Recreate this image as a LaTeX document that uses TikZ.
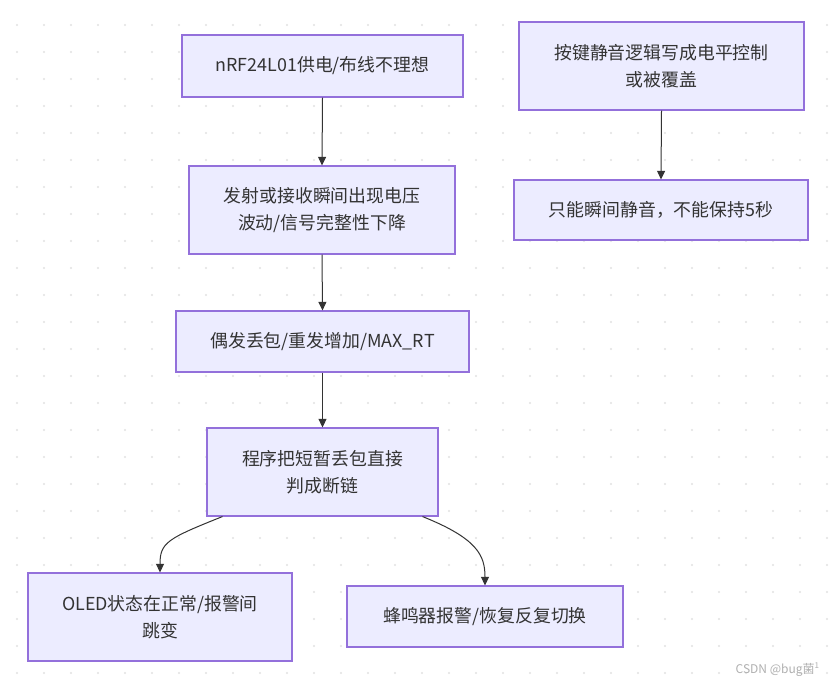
\documentclass[tikz,border=0pt]{standalone}
\usepackage{fontspec}
\setmainfont{Noto Sans CJK SC}
\usetikzlibrary{arrows.meta,calc}
\definecolor{boxfill}{HTML}{ECECFF}
\definecolor{boxline}{HTML}{9370DB}
\definecolor{ink}{HTML}{333333}
\definecolor{dotc}{HTML}{E2E2E2}
\definecolor{wm}{HTML}{B0B0B0}
\tikzset{
  flowbox/.style={draw=boxline, fill=boxfill, line width=0.8pt, inner sep=0pt,
    text=ink, align=center, font=\fontsize{13.4pt}{20.3pt}\selectfont},
  flowarrow/.style={draw=ink, line width=0.75pt, -{Triangle[length=6.5pt,width=6pt]}},
}
\begin{document}
\begin{tikzpicture}[x=0.75pt,y=-0.75pt]
\useasboundingbox (0,0) rectangle (834,686);
\fill[white] (0,0) rectangle (834,686);
\foreach \i in {0,...,30}{
  \foreach \j in {0,...,24}{
    \fill[dotc] (17+27*\i,25+27*\j) circle (0.9pt);
  }
}
\node[flowbox, minimum width=281*0.75pt, minimum height=62*0.75pt] (A) at (322.5,66) {nRF24L01供电/布线不理想};
\node[flowbox, minimum width=266*0.75pt, minimum height=88*0.75pt] (B) at (322,210) {发射或接收瞬间出现电压\\波动/信号完整性下降};
\node[flowbox, minimum width=293*0.75pt, minimum height=61*0.75pt] (C) at (322.5,341.5) {偶发丢包/重发增加/MAX\_RT};
\node[flowbox, minimum width=231*0.75pt, minimum height=88*0.75pt] (D) at (322.5,472) {程序把短暂丢包直接\\判成断链};
\node[flowbox, minimum width=264*0.75pt, minimum height=88*0.75pt] (E) at (160,617) {OLED状态在正常/报警间\\跳变};
\node[flowbox, minimum width=276*0.75pt, minimum height=61*0.75pt] (F) at (485,616.5) {蜂鸣器报警/恢复反复切换};
\node[flowbox, minimum width=285*0.75pt, minimum height=88*0.75pt] (G) at (661.5,66) {按键静音逻辑写成电平控制\\或被覆盖};
\node[flowbox, minimum width=294*0.75pt, minimum height=60*0.75pt] (H) at (661,210) {只能瞬间静音，不能保持5秒};

\draw[flowarrow] (A.south) -- (B.north);
\draw[flowarrow] (B.south) -- (C.north);
\draw[flowarrow] (C.south) -- (D.north);
\draw[flowarrow] (G.south) -- (H.north);
\coordinate (DL) at ($(D.south)+(-100,0)$);
\coordinate (DR) at ($(D.south)+(100,0)$);
\draw[flowarrow] (DL) .. controls ($(DL)+(-55,22)$) and ($(E.north)+(0,-30)$) .. (E.north);
\draw[flowarrow] (DR) .. controls ($(DR)+(55,22)$) and ($(F.north)+(0,-30)$) .. (F.north);

\node[text=wm, font=\fontsize{9pt}{10pt}\selectfont, anchor=east, inner sep=0pt] (W) at (820,670) {CSDN @bug菌\textsuperscript{1}};
\end{tikzpicture}
\end{document}
